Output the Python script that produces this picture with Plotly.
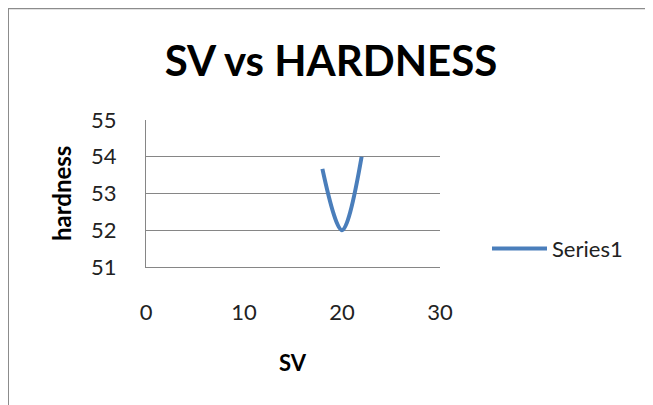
import plotly.graph_objects as go

sv = [18, 20, 22]
hardness = [53.67, 52, 54]
series_name = "Series1"
x_ticks = [0, 10, 20, 30]
y_ticks = [51, 52, 53, 54, 55]

FONT = "Lato"
OFF = 8  # page body margin
W, H = 653 - OFF, 405 - OFF
L, R, T, B = 146 - OFF, 440 - OFF, 119.5 - OFF, 267.5 - OFF
pw, ph = R - L, B - T


# reference pixel -> paper coordinates
def px_x(v):
    return (v - OFF - L) / pw


def px_y(v):
    return (B - (v - OFF)) / ph


fig = go.Figure()
fig.add_trace(go.Scatter(
    x=sv, y=hardness, mode="lines", name=series_name,
    line=dict(color="#4A7EBB", width=4, shape="spline", smoothing=1),
))

fig.update_layout(
    width=W, height=H,
    margin=dict(l=L, r=W - R, t=T, b=H - B),
    paper_bgcolor="white", plot_bgcolor="white",
    font=dict(family=FONT, color="#222"),
    title=dict(text="<b>SV vs HARDNESS</b>", x=(331 - OFF) / W, xanchor="center",
               y=1 - (61 - OFF) / H, yanchor="middle",
               font=dict(size=42, color="black", family=FONT)),
    showlegend=True,
    legend=dict(x=px_x(487), y=px_y(249), xanchor="left", yanchor="middle",
                itemwidth=55, font=dict(size=22, color="#222", family=FONT),
                bgcolor="rgba(0,0,0,0)"),
    xaxis=dict(range=[0, 30], tickvals=x_ticks, showgrid=False,
               showline=True, linecolor="#868686", linewidth=1,
               zeroline=False, ticks="", ticklabelstandoff=26,
               tickfont=dict(size=22, family=FONT, color="#222")),
    yaxis=dict(range=[51, 55], tickvals=y_ticks, showgrid=True,
               gridcolor="#868686", gridwidth=1,
               showline=True, linecolor="#868686", linewidth=1,
               zeroline=False, ticks="", ticklabelstandoff=24,
               tickfont=dict(size=22, family=FONT, color="#222")),
    annotations=[
        dict(text="<b>hardness</b>", x=px_x(62), y=px_y(194), xref="paper",
             yref="paper", xanchor="center", yanchor="middle",
             showarrow=False, textangle=-90,
             font=dict(size=24, family=FONT, color="black")),
        dict(text="<b>SV</b>", x=px_x(293), y=px_y(364), xref="paper",
             yref="paper", xanchor="center", yanchor="middle",
             showarrow=False,
             font=dict(size=22, family=FONT, color="black")),
    ],
    shapes=[
        dict(type="rect", xref="paper", yref="paper",
             x0=px_x(8), x1=px_x(700), y0=px_y(450), y1=px_y(7),
             line=dict(color="#8C8C8C", width=2), layer="below"),
    ],
)

fig.write_html("out.html")
